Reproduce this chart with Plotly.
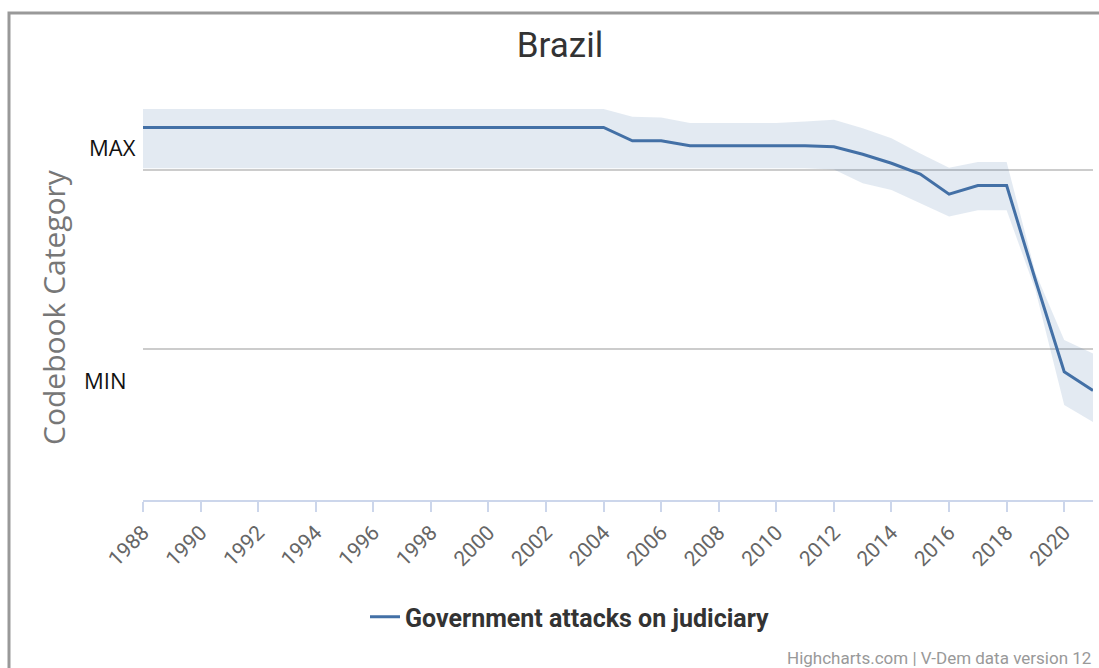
import plotly.graph_objects as go

# Brazil - Government attacks on judiciary (codebook scale, MIN=0, MAX=4)
years = list(range(1988, 2022))
estimate = [4.94] * 17 + [4.64, 4.64, 4.53, 4.53, 4.53, 4.53, 4.53, 4.51, 4.34, 4.14,
                          3.90, 3.45, 3.64, 3.64, 1.53, -0.52, -0.94]
upper = [5.35] * 17 + [5.18, 5.16, 5.04, 5.04, 5.04, 5.04, 5.07, 5.11, 4.92, 4.70,
                       4.36, 4.04, 4.17, 4.17, 1.69, 0.19, -0.11]
lower = [4.03] * 17 + [4.03, 4.03, 4.03, 4.03, 4.03, 4.03, 4.03, 4.00, 3.69, 3.54,
                       3.24, 2.95, 3.09, 3.09, 1.31, -1.26, -1.64]
x_ticks = list(range(1988, 2021, 2))
y_ticks = [0, 4]
y_labels = ['MIN', 'MAX']

line_color = '#4370a6'
band_color = 'rgba(69,114,167,0.15)'
narrow = 'Liberation Sans Narrow, Roboto, sans-serif'

fig = go.Figure()
fig.add_scatter(x=years, y=lower, mode='lines', line=dict(width=0),
                showlegend=False, hoverinfo='skip')
fig.add_scatter(x=years, y=upper, mode='lines', line=dict(width=0),
                fill='tonexty', fillcolor=band_color, showlegend=False, hoverinfo='skip')
fig.add_scatter(x=years, y=estimate, mode='lines', name='Government attacks on judiciary',
                line=dict(color=line_color, width=3))

fig.update_layout(
    width=1099, height=668,
    margin=dict(l=143, r=6, t=95, b=168),
    paper_bgcolor='white', plot_bgcolor='white',
    font=dict(family='Open Sans, sans-serif'),
    title=dict(text='Brazil', x=560 / 1099, xanchor='center', y=1 - 45 / 668, yanchor='middle',
               font=dict(size=35, color='#333333', family=narrow)),
    showlegend=True,
    legend=dict(orientation='h', xref='container', yref='container',
                x=570 / 1099, xanchor='center', y=1 - 617 / 668, yanchor='middle',
                font=dict(size=25, color='#333333', family=narrow, weight='bold'),
                itemwidth=30),
)

fig.update_xaxes(range=[1988, 2021], tickmode='array', tickvals=x_ticks, tickangle=-45,
                 showgrid=False, zeroline=False,
                 showline=True, linecolor='#ccd6eb', linewidth=2,
                 ticks='outside', ticklen=10, tickcolor='#ccd6eb', tickwidth=2,
                 tickfont=dict(size=21, color='#666666', family=narrow))

y_min = 4 * (348.5 - 500) / 179
y_max = 4 * (348.5 - 95) / 179
fig.update_yaxes(range=[y_min, y_max], tickmode='array', tickvals=y_ticks, showticklabels=False,
                 showgrid=True, gridcolor='#cccccc', gridwidth=2, zeroline=False, showline=False)

# axis title placed like the Highcharts one
fig.add_annotation(text='Codebook Category', xref='paper', yref='paper',
                   x=(53 - 143) / 950, y=(500 - 307) / 405, textangle=-90, showarrow=False,
                   xanchor='center', yanchor='middle', font=dict(size=30, color='#777777'))

# category labels sit offset from their grid lines, as in the original chart
fig.add_annotation(text=y_labels[1], xref='paper', yref='y', x=0, y=4.5, xanchor='right',
                   xshift=-5, showarrow=False, font=dict(size=22, color='#111111'))
fig.add_annotation(text=y_labels[0], xref='paper', yref='y', x=0, y=-0.7, xanchor='right',
                   xshift=-14, showarrow=False, font=dict(size=22, color='#111111'))

fig.add_annotation(text='Highcharts.com | V-Dem data version 12', xref='paper', yref='paper',
                   x=1, y=(500 - 658) / 405, xanchor='right', yanchor='middle', showarrow=False,
                   font=dict(size=17, color='#999999', family=narrow))

# gray frame of the screenshot
fig.add_shape(type='rect', xref='paper', yref='paper',
              x0=(9 - 143) / 950, x1=(1110 - 143) / 950, y0=(500 - 690) / 405, y1=(500 - 13) / 405,
              line=dict(color='#999999', width=3), fillcolor='rgba(0,0,0,0)')

fig.write_html("out.html", config={'displayModeBar': False},
               post_script="document.body.style.margin='0';")
